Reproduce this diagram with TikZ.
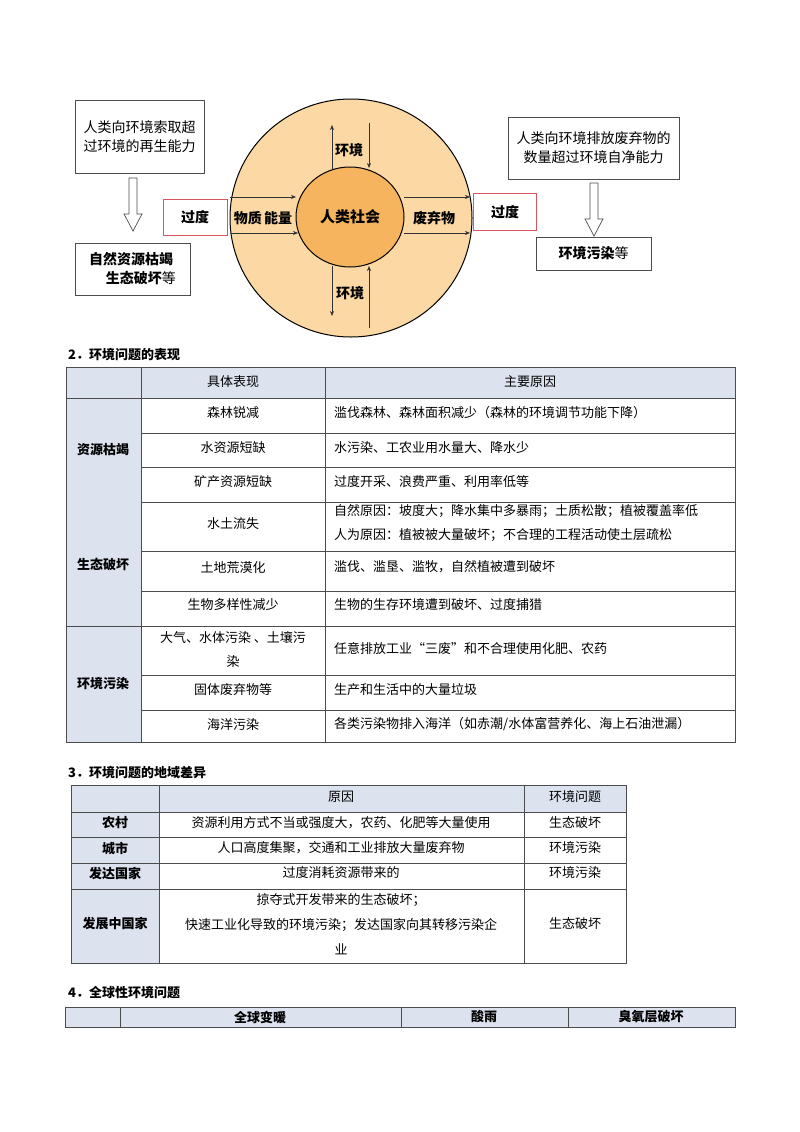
\documentclass[tikz,border=0pt]{standalone}
\usepackage{fontspec}
\setmainfont{Noto Sans CJK SC}
\usetikzlibrary{arrows.meta,shapes.geometric}
\definecolor{hdr}{HTML}{DCE3EF}
\definecolor{outerO}{HTML}{FBD8A4}
\definecolor{innerO}{HTML}{F7B45E}
\definecolor{redb}{HTML}{D9545C}
\begin{document}
\begin{tikzpicture}[x=1pt,y=-1pt,
  tt/.style={font=\fontsize{13}{17}\selectfont,inner sep=0pt},
  tb/.style={font=\fontsize{13}{17}\selectfont\bfseries,inner sep=0pt},
  db/.style={draw=black!70,line width=0.8pt},
  rb/.style={draw=redb,line width=0.8pt},
  flow/.style={-{Stealth[length=5pt,width=4pt]},line width=0.6pt,black!80},
  grid/.style={draw=black!70,line width=0.7pt},
  hol/.style={draw=black!70,fill=white,line width=0.7pt}]
\useasboundingbox (0,0) rectangle (800,1132);
% ---------- top diagram
\node[draw=black,line width=1pt,fill=outerO,ellipse,minimum width=242pt,minimum height=238pt,inner sep=0] (outer) at (351,218) {};
\node[draw=black,line width=1pt,fill=innerO,ellipse,minimum width=108pt,minimum height=100pt,inner sep=0] (inner) at (350,217) {};
\node[tb,font=\fontsize{15}{18}\selectfont\bfseries] (soc) at (350,217) {人类社会};
\coordinate (la1) at (230,197); \coordinate (la1e) at (296,197);
\coordinate (la2) at (230,233); \coordinate (la2e) at (298,233);
\draw[flow] (la1) -- (la1e); \draw[flow] (la2) -- (la2e);
\coordinate (ra1) at (404,197); \coordinate (ra1e) at (470,197);
\coordinate (ra2) at (404,233); \coordinate (ra2e) at (470,233);
\draw[flow] (ra1) -- (ra1e); \draw[flow] (ra2) -- (ra2e);
\coordinate (tu1) at (332,169); \coordinate (tu2) at (332,125);
\draw[flow] (tu1) -- (tu2);
\coordinate (td1) at (369,123); \coordinate (td2) at (369,168);
\draw[flow] (td1) -- (td2);
\coordinate (bd1) at (332,266); \coordinate (bd2) at (332,316);
\draw[flow] (bd1) -- (bd2);
\coordinate (bu1) at (369,328); \coordinate (bu2) at (369,266);
\draw[flow] (bu1) -- (bu2);
\node[tb,font=\fontsize{14}{17}\selectfont\bfseries] (env1) at (349,150) {环境};
\node[tb,font=\fontsize{14}{17}\selectfont\bfseries] (env2) at (350,293) {环境};
\node[tb,font=\fontsize{14}{17}\selectfont\bfseries] (me) at (263,218) {物质\,能量};
\node[tb,font=\fontsize{14}{17}\selectfont\bfseries] (waste) at (434,218) {废弃物};
\node[rb,minimum width=64pt,minimum height=36pt,font=\fontsize{14}{17}\selectfont\bfseries] (gd1) at (195,217) {过度};
\node[rb,minimum width=63pt,minimum height=37pt,font=\fontsize{14}{17}\selectfont\bfseries] (gd2) at (505,212) {过度};
\node[db,minimum width=129pt,minimum height=73pt,align=left,font=\fontsize{14}{19}\selectfont] (lt) at (139.5,136.5) {人类向环境索取超\\过环境的再生能力};
\node[db,minimum width=115pt,minimum height=52pt,align=left,font=\fontsize{14}{19}\selectfont] (lb) at (132.5,269) {\textbf{自然资源枯竭}\\\hspace{1.2em}\textbf{生态破坏}等};
\node[db,minimum width=171pt,minimum height=62pt,align=center,font=\fontsize{14}{19}\selectfont] (rt) at (593.5,148) {人类向环境排放废弃物的\\数量超过环境自净能力};
\node[db,minimum width=115pt,minimum height=33pt,font=\fontsize{14}{19}\selectfont] (rbx) at (593.5,253.5) {\textbf{环境污染}等};
\draw[hol] (129,178) -- (137,178) -- (137,214) -- (142,214) -- (133,231) -- (124,214) -- (129,214) -- cycle;
\draw[hol] (590,183) -- (598,183) -- (598,219) -- (603,219) -- (594,236) -- (585,219) -- (590,219) -- cycle;
% ---------- section 2
\node[tb,anchor=west] (t2) at (68,355) {2．环境问题的表现};
\fill[hdr] (66,367) rectangle (735,398);
\fill[hdr] (66,398) rectangle (141,742);
\draw[grid] (66,367) rectangle (735,742);
\foreach \y in {398,626}{\draw[grid] (66,\y) -- (735,\y);}
\foreach \y in {433,467,502,551,591,675,710}{\draw[grid] (141,\y) -- (735,\y);}
\draw[grid] (141,367) -- (141,742);
\draw[grid] (325,367) -- (325,742);
\node[tt] (h1) at (233,382) {具体表现};
\node[tt] (h2) at (530,382) {主要原因};
\node[tb] (g1) at (103,450) {资源枯竭};
\node[tb] (g2) at (103,564) {生态破坏};
\node[tb] (g3) at (103,684) {环境污染};
\node[tt] (a1) at (233,413) {森林锐减};
\node[tt] (a2) at (233,448) {水资源短缺};
\node[tt] (a3) at (233,482) {矿产资源短缺};
\node[tt] (a4) at (233,524) {水土流失};
\node[tt] (a5) at (233,568) {土地荒漠化};
\node[tt] (a6) at (233,605) {生物多样性减少};
\node[tt,align=center,font=\fontsize{13}{24}\selectfont] (a7) at (233,649) {大气、水体污染\ 、土壤污\\染};
\node[tt] (a8) at (233,690) {固体废弃物等};
\node[tt] (a9) at (233,725) {海洋污染};
\node[tt,anchor=west] (b1) at (334,413) {滥伐森林、森林面积减少（森林的环境调节功能下降）};
\node[tt,anchor=west] (b2) at (334,448) {水污染、工农业用水量大、降水少};
\node[tt,anchor=west] (b3) at (334,482) {过度开采、浪费严重、利用率低等};
\node[tt,anchor=west,align=left,font=\fontsize{13}{24}\selectfont] (b4) at (334,523) {自然原因：坡度大；降水集中多暴雨；土质松散；植被覆盖率低\\人为原因：植被被大量破坏；不合理的工程活动使土层疏松};
\node[tt,anchor=west] (b5) at (334,567) {滥伐、滥垦、滥牧，自然植被遭到破坏};
\node[tt,anchor=west] (b6) at (334,605) {生物的生存环境遭到破坏、过度捕猎};
\node[tt,anchor=west] (b7) at (334,649) {任意排放工业“三废”和不合理使用化肥、农药};
\node[tt,anchor=west] (b8) at (334,690) {生产和生活中的大量垃圾};
\node[tt,anchor=west] (b9) at (334,724) {各类污染物排入海洋（如赤潮/水体富营养化、海上石油泄漏）};
% ---------- section 3
\node[tb,anchor=west] (t3) at (68,773) {3．环境问题的地域差异};
\fill[hdr] (71,785) rectangle (626,812);
\fill[hdr] (71,812) rectangle (159,963);
\draw[grid] (71,785) rectangle (626,963);
\foreach \y in {812,837,863,889}{\draw[grid] (71,\y) -- (626,\y);}
\draw[grid] (159,785) -- (159,963);
\draw[grid] (524,785) -- (524,963);
\node[tt] (c0) at (341,797) {原因};
\node[tt] (d0) at (575,797) {环境问题};
\node[tb] (r1) at (115,823) {农村};
\node[tb] (r2) at (115,848) {城市};
\node[tb] (r3) at (115,873) {发达国家};
\node[tb] (r4) at (115,924) {发展中国家};
\node[tt] (c1) at (341,823) {资源利用方式不当或强度大，农药、化肥等大量使用};
\node[tt] (c2) at (341,848) {人口高度集聚，交通和工业排放大量废弃物};
\node[tt] (c3) at (341,873) {过度消耗资源带来的};
\node[tt,align=center,font=\fontsize{13}{25}\selectfont] (c4) at (341,924) {掠夺式开发带来的生态破坏；\\快速工业化导致的环境污染；发达国家向其转移污染企\\业};
\node[tt] (d1) at (575,823) {生态破坏};
\node[tt] (d2) at (575,848) {环境污染};
\node[tt] (d3) at (575,873) {环境污染};
\node[tt] (d4) at (575,924) {生态破坏};
% ---------- section 4
\node[tb,anchor=west] (t4) at (68,993) {4．全球性环境问题};
\fill[hdr] (65,1007) rectangle (735,1027);
\draw[grid] (65,1007) rectangle (735,1027);
\foreach \x in {120,401,568}{\draw[grid] (\x,1007) -- (\x,1027);}
\node[tb] (e1) at (260,1017) {全球变暖};
\node[tb] (e2) at (484,1017) {酸雨};
\node[tb] (e3) at (651,1017) {臭氧层破坏};
\end{tikzpicture}
\end{document}
